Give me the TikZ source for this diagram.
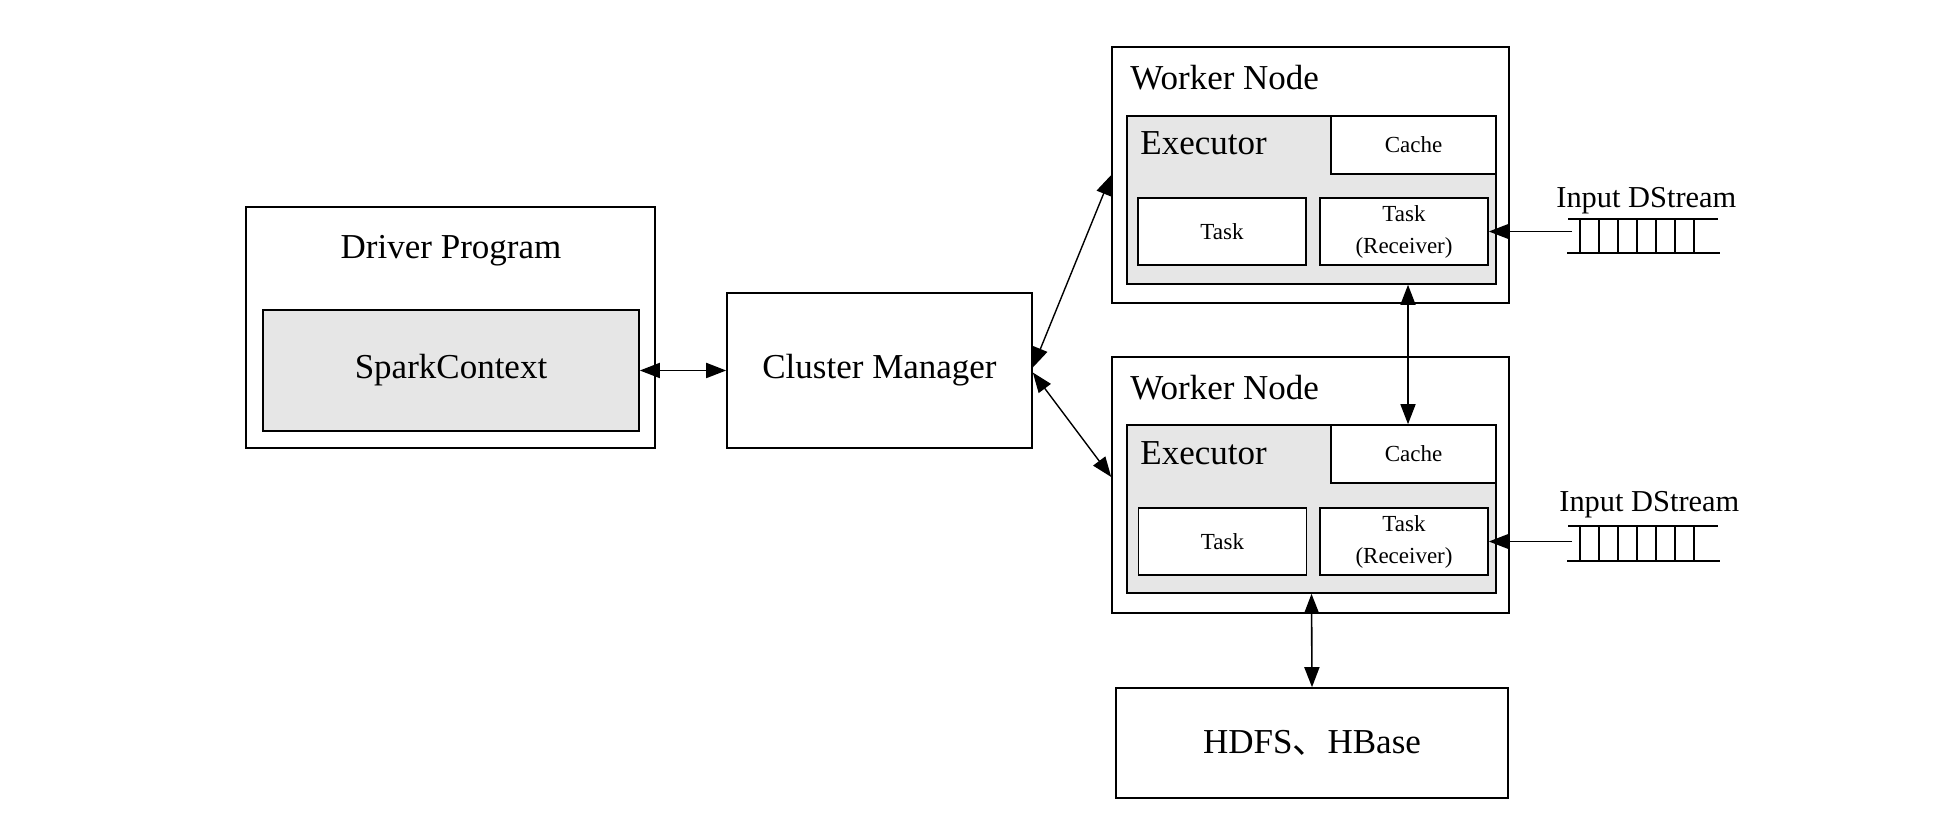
\documentclass[tikz,border=0pt]{standalone}
\usepackage{fontspec}
\setmainfont{Liberation Serif}
\newfontfamily\cjk{Noto Sans CJK SC}
\usetikzlibrary{arrows.meta}
\definecolor{execgray}{RGB}{230,230,230}
\begin{document}
\begin{tikzpicture}[x=0.5pt,y=-0.5pt,
  >={Triangle[length=10pt,width=7.5pt]},
  box/.style={draw=black, line width=0.8pt, inner sep=0pt, rectangle},
  bigfont/.style={font=\fontsize{17.5}{21}\selectfont},
  smallfont/.style={font=\fontsize{11.5}{16}\selectfont},
  dsfont/.style={font=\fontsize{15.2}{18}\selectfont},
  lbl/.style={inner sep=0pt, anchor=base west},
  biarrow/.style={line width=0.9pt, <->},
  thinbiarrow/.style={line width=0.7pt, <->},
  onearrow/.style={line width=0.8pt, ->},
  queue/.style={line width=0.8pt}
]
\useasboundingbox (0,0) rectangle (1952,838);

% Driver program
\node[box, minimum width=204.5pt, minimum height=120.5pt] (driver) at (450.5,327.5) {};
\node[bigfont, inner sep=0pt] (driverlbl) at (451,251) {Driver Program};
\node[box, fill=execgray, minimum width=188pt, minimum height=60.5pt, bigfont] (spark) at (451,370.5) {SparkContext};

% Cluster manager
\node[box, minimum width=152.5pt, minimum height=77.5pt, bigfont] (cm) at (879.5,370.5) {Cluster Manager};

% Worker 1
\node[box, fill=white, minimum width=198.5pt, minimum height=128pt] (W1) at (1310.5,175) {};
\node[box, fill=execgray, minimum width=184.5pt, minimum height=84pt] (E1) at (1311.5,200) {};
\node[box, fill=white, minimum width=82.5pt, minimum height=29pt, smallfont] (C1) at (1413.5,145) {Cache};
\node[box, fill=white, minimum width=84pt, minimum height=33.5pt, smallfont] (T1) at (1222,231.5) {Task};
\node[box, fill=white, minimum width=84pt, minimum height=33.5pt, smallfont, align=center] (R1) at (1404,231.5) {Task\\(Receiver)};
\node[bigfont, lbl] (W1lbl) at (1130,90) {Worker Node};
\node[bigfont, lbl] (E1lbl) at (1140,155) {Executor};

% Worker 2
\node[box, fill=white, minimum width=198.5pt, minimum height=128pt] (W2) at (1310.5,485) {};
\node[box, fill=execgray, minimum width=184.5pt, minimum height=84pt] (E2) at (1311.5,509) {};
\node[box, fill=white, minimum width=82.5pt, minimum height=29pt, smallfont] (C2) at (1413.5,454) {Cache};
\node[box, fill=white, minimum width=84pt, minimum height=33.5pt, smallfont] (T2) at (1222.5,541.5) {Task};
\node[box, fill=white, minimum width=84pt, minimum height=33.5pt, smallfont, align=center] (R2) at (1404,541.5) {Task\\(Receiver)};
\node[bigfont, lbl] (W2lbl) at (1130,400) {Worker Node};
\node[bigfont, lbl] (E2lbl) at (1140,465) {Executor};

% HDFS
\node[box, minimum width=196pt, minimum height=55pt, bigfont] (hdfs) at (1312,743) {HDFS{\cjk 、}HBase};

% Input DStreams
\node[dsfont, lbl] (in1) at (1556,208) {Input DStream};
\node[dsfont, lbl] (in2) at (1559,512) {Input DStream};

% queue 1
\draw[queue] (1568,219) -- (1718,219);
\draw[queue] (1567,253) -- (1720,253);
\foreach \qx in {1580,1599,1618,1637,1656,1675,1694} {\draw[queue] (\qx,219) -- (\qx,253);}
% queue 2
\draw[queue] (1568,526) -- (1718,526);
\draw[queue] (1567,561) -- (1720,561);
\foreach \qx in {1580,1599,1618,1637,1656,1675,1694} {\draw[queue] (\qx,526) -- (\qx,561);}

\coordinate (q1) at (1572,231.5);
\coordinate (q2) at (1572,541.5);
\draw[onearrow] (q1) -- (R1.east);
\draw[onearrow] (q2) -- (R2.east);

% connectors
\draw[biarrow] (spark.east) -- (cm.west);
\draw[thinbiarrow] ([yshift=1.5pt]cm.east) -- (W1.west);
\draw[thinbiarrow] ([yshift=-1pt]cm.east) -- ([yshift=4pt]W2.west);
\path ([xshift=-2.75pt]C2.north) coordinate (c2top);
\draw[biarrow, line width=0.8pt] (c2top |- E1.south) -- (c2top);
\draw[biarrow, line width=0.8pt] (E2.south) -- (hdfs.north);
\end{tikzpicture}
\end{document}
